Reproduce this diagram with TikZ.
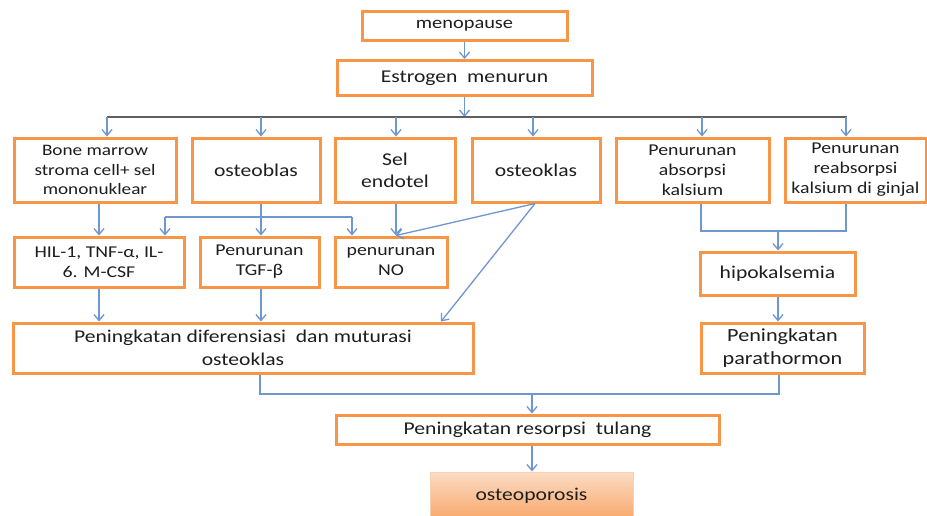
\documentclass[tikz,border=0pt]{standalone}
\usepackage{fontspec}
\setmainfont[FakeStretch=1.2]{Carlito}
\usetikzlibrary{arrows.meta}
\definecolor{orng}{HTML}{F79646}
\definecolor{lblue}{HTML}{6E97D0}
\definecolor{bargrey}{HTML}{5F5F5F}
\definecolor{txt}{HTML}{1E1E1E}
\definecolor{peachtop}{HTML}{FCDCC4}
\definecolor{peachbot}{HTML}{F8A86C}
\newcommand\fsz[2]{\fontsize{#1}{#2}\selectfont}
\begin{document}
\begin{tikzpicture}[x=1pt,y=-1pt,
  box/.style={draw=orng, line width=3pt, fill=white, inner sep=0pt, align=center, text=txt},
  conn/.style={draw=lblue, line width=1.3pt, -{Straight Barb[length=6pt,width=10pt]}},
  plain/.style={draw=lblue, line width=1.3pt},
  barline/.style={draw=bargrey, line width=1.8pt},
  final/.style={draw=orng!45, line width=1pt, top color=peachtop, bottom color=peachbot, inner sep=0pt, align=center, text=txt}]
\clip (0,0) rectangle (927,515);
\fill[white] (0,0) rectangle (927,515);

% nodes
\node[box, minimum width=205, minimum height=29, font=\fsz{17}{20}] (meno) at (464.5,25.5) {menopause};
\node[box, minimum width=255, minimum height=35, font=\fsz{18}{22}] (estr) at (464.5,78) {Estrogen\ \ menurun};

\node[box, minimum width=162, minimum height=64, font=\fsz{16}{19.5}] (bm) at (95,170) {Bone marrow\\stroma cell+ sel\\mononuklear};
\node[box, minimum width=128, minimum height=64, font=\fsz{18}{22}] (ob) at (256,170) {osteoblas};
\node[box, minimum width=120, minimum height=64, font=\fsz{18}{22}] (se) at (395,170) {Sel\\endotel};
\node[box, minimum width=128, minimum height=64, font=\fsz{18}{22}] (ok) at (536,170) {osteoklas};
\node[box, minimum width=153, minimum height=64, font=\fsz{16.5}{20}] (pa) at (692.5,170) {Penurunan\\absorpsi\\kalsium};
\node[box, minimum width=141, minimum height=64, font=\fsz{16.5}{20}] (pr) at (855.5,170) {Penurunan\\reabsorpsi\\kalsium di ginjal};

\node[box, minimum width=170, minimum height=50, font=\fsz{16.5}{20}] (hil) at (99,262) {HIL-1, TNF-α, IL-\\6. M-CSF};
\node[box, minimum width=119, minimum height=50, font=\fsz{16.5}{20}] (tgf) at (259.5,262) {Penurunan\\TGF-β};
\node[box, minimum width=112, minimum height=50, font=\fsz{16.5}{20}] (no) at (391,262) {penurunan\\NO};
\node[box, minimum width=155, minimum height=43, font=\fsz{18}{22}] (hipo) at (777.5,273.5) {hipokalsemia};

\node[box, minimum width=460, minimum height=50, font=\fsz{18}{23}] (dif) at (243,348) {Peningkatan diferensiasi\ \ dan muturasi\\osteoklas};
\node[box, minimum width=163, minimum height=50, font=\fsz{18.5}{23}] (para) at (782.5,348) {Peningkatan\\parathormon};
\node[box, minimum width=383, minimum height=29, font=\fsz{18}{22}] (res) at (527.5,429.5) {Peningkatan resorpsi\ \ tulang};
\node[final, minimum width=203, minimum height=47, font=\fsz{18}{22}] (osteo) at (531.5,495.5) {osteoporosis};

% junction coordinates
\coordinate (barL) at (107,117);
\coordinate (barR) at (847,117);
\coordinate (barM) at (464.5,117);
\coordinate (d2) at (261,117);
\coordinate (d3) at (396,117);
\coordinate (d4) at (533,117);
\coordinate (d5) at (702,117);
\coordinate (d6) at (846,117);
\coordinate (brL) at (165,217);
\coordinate (brR) at (352,217);
\coordinate (difIn) at (441,323);
\coordinate (xa) at (701,231);
\coordinate (xb) at (846,231);
\coordinate (m1) at (778,231);
\coordinate (ya) at (260,394);
\coordinate (yb) at (779,394);
\coordinate (m2) at (532,394);

% connectors
\draw[conn] (meno) -- (estr);
\draw[conn] (estr) -- (barM);
\draw[barline] (barL) -- (barR);
\draw[conn] (barL) -- (barL |- bm.north);
\draw[conn] (d2) -- (d2 |- ob.north);
\draw[conn] (d3) -- (d3 |- se.north);
\draw[conn] (d4) -- (d4 |- ok.north);
\draw[conn] (d5) -- (d5 |- pa.north);
\draw[conn] (d6) -- (d6 |- pr.north);

\draw[conn] (hil.north |- bm.south) -- (hil.north);
\draw[conn] (d2 |- ob.south) -- (d2 |- tgf.north);
\draw[plain] (brL) -- (brR);
\draw[conn] (brL) -- (brL |- hil.north);
\draw[conn] (brR) -- (brR |- no.north);
\draw[conn] (d3 |- se.south) -- (d3 |- no.north);
\draw[conn] ([xshift=-1pt]ok.south) -- (d3 |- no.north);
\draw[conn] ([xshift=-1pt]ok.south) -- (difIn |- dif.north);

\draw[conn] (hil.south) -- (hil.south |- dif.north);
\draw[conn] (d2 |- tgf.south) -- (d2 |- dif.north);

\draw[plain] (xa |- pa.south) -- (xa) -- (xb) -- (xb |- pr.south);
\draw[conn] (m1) -- (m1 |- hipo.north);
\draw[conn] (m1 |- hipo.south) -- (m1 |- para.north);

\draw[plain] (ya |- dif.south) -- (ya) -- (yb) -- (yb |- para.south);
\draw[conn] (m2) -- (m2 |- res.north);
\draw[conn] (m2 |- res.south) -- (m2 |- osteo.north);
\end{tikzpicture}
\end{document}
